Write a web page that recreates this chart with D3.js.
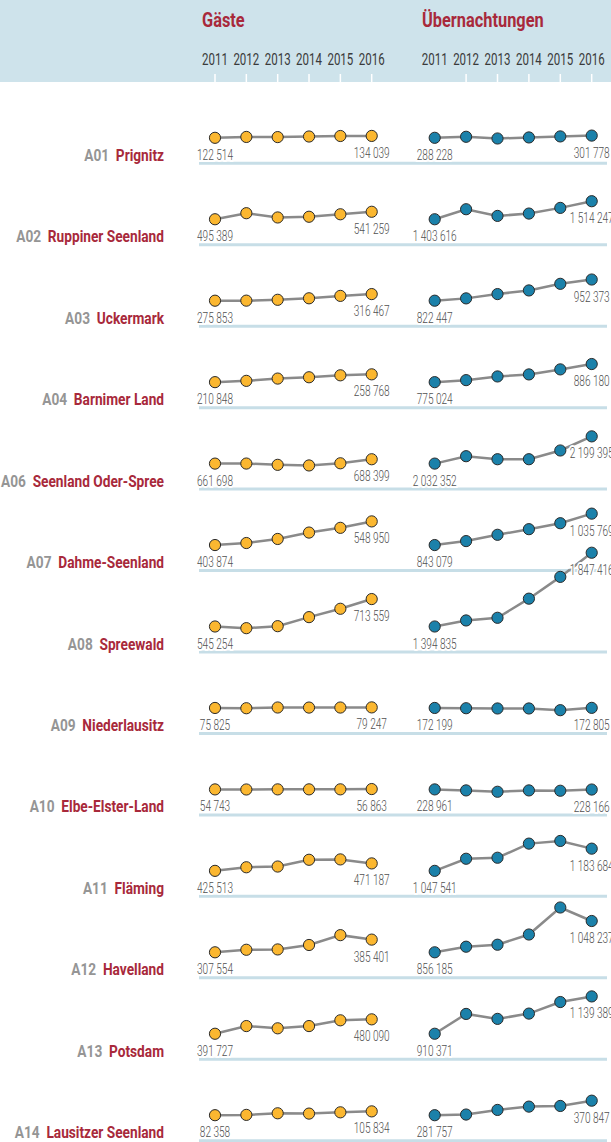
<!DOCTYPE html>
<html>
<head>
<meta charset="utf-8">
<script src="https://cdn.jsdelivr.net/npm/d3@7"></script>
<style>
  body { margin: 0; background: #fff; }
  svg { display: block; font-family: Roboto, "Noto Sans", sans-serif; }
</style>
</head>
<body>
<div id="chart"></div>
<script>
const years = [2011, 2012, 2013, 2014, 2015, 2016];
const codes = ["A01", "A02", "A03", "A04", "A06", "A07", "A08", "A09", "A10", "A11", "A12", "A13", "A14"];
const names = ["Prignitz", "Ruppiner Seenland", "Uckermark", "Barnimer Land", "Seenland Oder-Spree",
    "Dahme-Seenland", "Spreewald", "Niederlausitz", "Elbe-Elster-Land", "Fläming", "Havelland",
    "Potsdam", "Lausitzer Seenland"];

// Gäste per year 2011..2016
const gaeste = [
    [122514, 127800, 126900, 130400, 133600, 134039],
    [495389, 532500, 506300, 510700, 525900, 541259],
    [275853, 276200, 281400, 290600, 305400, 316467],
    [210848, 218800, 232800, 240800, 252800, 258768],
    [661698, 662000, 654100, 650300, 663600, 688399],
    [403874, 416300, 441200, 480500, 509500, 548950],
    [545254, 535000, 547300, 602700, 654000, 713559],
    [75825, 74100, 78600, 78200, 78400, 79247],
    [54743, 54200, 54900, 55000, 55100, 56863],
    [425513, 447500, 452000, 493500, 495700, 471187],
    [307554, 323100, 325100, 352400, 412800, 385401],
    [391727, 438900, 425100, 438900, 474200, 480090],
    [82358, 84300, 94100, 92200, 100000, 105834]
];

// Übernachtungen per year 2011..2016
const uebernachtungen = [
    [288228, 294500, 284000, 290400, 296700, 301778],
    [1403616, 1465100, 1424100, 1438500, 1473300, 1514247],
    [822447, 836700, 863100, 885400, 926000, 952373],
    [775024, 787400, 810000, 822400, 853300, 886180],
    [2032352, 2077700, 2059200, 2059200, 2112800, 2199395],
    [843079, 867400, 906000, 940500, 977000, 1035769],
    [1394835, 1431900, 1448300, 1565600, 1699300, 1847416],
    [172199, 170500, 169000, 169000, 158500, 172805],
    [228961, 222800, 214500, 222800, 220700, 228166],
    [1047541, 1121800, 1128000, 1214600, 1231000, 1183684],
    [856185, 890500, 902700, 965300, 1131000, 1048237],
    [910371, 1032000, 1001600, 1034000, 1105000, 1139389],
    [281757, 285800, 314100, 334400, 338500, 370847]
];

const width = 611, height = 1142;
const red = "#a8293b", grey = "#959595";

const svg = d3.select("#chart").append("svg")
    .attr("width", width)
    .attr("height", height);

const xG = d3.scalePoint().domain(years).range([215, 371.7]);
const xU = d3.scalePoint().domain(years).range([434.7, 591.7]);
const rowY = d3.scalePoint().domain(codes).range([163.3, 1140.7]);
// same pixels-per-guest scale for every row, anchored at the 2011 value
const dy = d3.scaleLinear().domain([0, 1000000]).range([0, -163]);
const fmt = d3.formatLocale({ decimal: ",", thousands: " ", grouping: [3], currency: ["", "€"] }).format(",d");

// condensed look: squeeze text horizontally around its anchor
const squeeze = (x, y, sx) => `translate(${x},${y}) scale(${sx},1)`;

// header band
svg.append("rect")
    .attr("x", 0).attr("y", 0)
    .attr("width", width).attr("height", 82)
    .attr("fill", "#cee3eb");

svg.selectAll(".title").data([["Gäste", 202], ["Übernachtungen", 422]]).enter().append("text")
    .attr("class", "title")
    .attr("transform", d => squeeze(d[1], 27, 0.84))
    .attr("fill", red).attr("font-weight", "bold").attr("font-size", 19.5)
    .text(d => d[0]);

[xG, xU].forEach((x, k) => {
    svg.selectAll(null).data(years).enter().append("text")
        .attr("transform", d => squeeze(x(d), 65, 0.72))
        .attr("text-anchor", "middle")
        .attr("font-size", 16)
        .attr("fill", "#3a3a3a")
        .text(d => d);
    svg.selectAll(null).data(k === 0 ? years : years.slice(1)).enter().append("line")
        .attr("x1", d => x(d)).attr("x2", d => x(d))
        .attr("y1", 74).attr("y2", 82)
        .attr("stroke", "#fff")
        .attr("stroke-width", 1.5);
});

// baselines
svg.selectAll(".base").data(codes).enter().append("line")
    .attr("class", "base")
    .attr("x1", 199).attr("x2", 607)
    .attr("y1", d => rowY(d)).attr("y2", d => rowY(d))
    .attr("stroke", "#c7dee7")
    .attr("stroke-width", 3);

// row labels
const lab = svg.selectAll(".rowlab").data(codes).enter().append("text")
    .attr("class", "rowlab")
    .attr("transform", d => squeeze(164, rowY(d) - 2.5, 0.83))
    .attr("text-anchor", "end")
    .attr("font-weight", "bold")
    .attr("font-size", 16.5);
lab.append("tspan").attr("fill", grey).text(d => d);
lab.append("tspan").attr("fill", red).attr("dx", 4).text((d, i) => " " + names[i]);

const line = d3.line();

function drawSeries(values, x, fill) {
    codes.forEach((code, i) => {
        const vals = values[i];
        const y = v => rowY(code) - 25.5 + dy(v - vals[0]);
        const pts = vals.map((v, j) => [x(years[j]), y(v)]);
        const g = svg.append("g");
        g.append("path")
            .attr("d", line(pts))
            .attr("fill", "none")
            .attr("stroke", "#8a8a8a")
            .attr("stroke-width", 2.5);
        g.selectAll("circle").data(pts).enter().append("circle")
            .attr("cx", d => d[0])
            .attr("cy", d => d[1])
            .attr("r", 5.6)
            .attr("fill", fill)
            .attr("stroke", "#2a2a2a")
            .attr("stroke-width", 1);
        g.selectAll("text").data([0, vals.length - 1]).enter().append("text")
            .attr("transform", j => squeeze(pts[j][0], pts[j][1] + 22, 0.72))
            .attr("text-anchor", "middle")
            .attr("font-size", 14)
            .attr("font-weight", 300)
            .attr("fill", "#505050")
            .attr("stroke", "#fff")
            .attr("stroke-width", 4)
            .attr("paint-order", "stroke")
            .text(j => fmt(vals[j]));
    });
}

drawSeries(gaeste, xG, "#fbb730");
drawSeries(uebernachtungen, xU, "#1b81aa");
</script>
</body>
</html>
